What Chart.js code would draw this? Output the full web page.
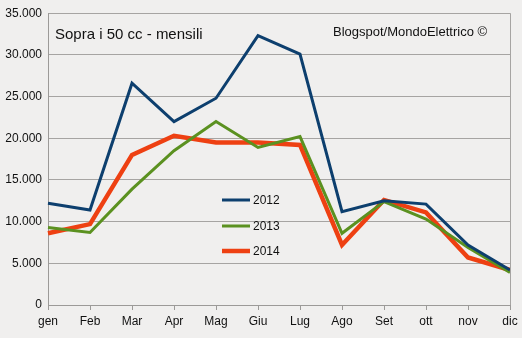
<!DOCTYPE html>
<html>
<head>
<meta charset="utf-8">
<script src="https://cdn.jsdelivr.net/npm/chart.js@4/dist/chart.umd.min.js"></script>
<style>
  html, body { margin: 0; padding: 0; background: #f0efee; }
  #wrap { width: 522px; height: 338px; }
</style>
</head>
<body>
<div id="wrap"><canvas id="lineChart" width="522" height="338"></canvas></div>
<script>
const months = ['gen', 'Feb', 'Mar', 'Apr', 'Mag', 'Giu', 'Lug', 'Ago', 'Set', 'ott', 'nov', 'dic'];
const vals2012 = [12200, 11400, 26600, 22000, 24800, 32300, 30100, 11200, 12500, 12100, 7200, 4200];
const vals2013 = [9300, 8700, 13900, 18500, 22000, 18900, 20200, 8600, 12400, 10300, 6900, 3900];
const vals2014 = [8600, 9700, 18000, 20300, 19500, 19500, 19200, 7200, 12600, 11100, 5700, 4200];
const chartTitle = 'Sopra i 50 cc - mensili';
const creditText = 'Blogspot/MondoElettrico ©';

const FONT = '"Liberation Sans", Arial, sans-serif';

// background, right border, titles and in-plot legend
const extras = {
  id: 'extras',
  beforeDraw(chart) {
    const c = chart.ctx;
    c.save();
    c.fillStyle = '#f0efee';
    c.fillRect(0, 0, chart.width, chart.height);
    c.restore();
  },
  afterDraw(chart) {
    const c = chart.ctx;
    const a = chart.chartArea;
    c.save();
    c.strokeStyle = '#a6a4a2';
    c.lineWidth = 1;
    c.beginPath();
    c.moveTo(a.right + 0.5, a.top);
    c.lineTo(a.right + 0.5, a.bottom);
    c.stroke();

    c.fillStyle = '#111';
    c.textBaseline = 'middle';
    c.font = '15px ' + FONT;
    c.textAlign = 'left';
    c.fillText(chartTitle, a.left + 7, 35);
    c.font = '13px ' + FONT;
    c.fillText(creditText, 333, 32);

    // legend
    const ys = [200, 226, 251];
    chart.data.datasets.forEach((ds, i) => {
      c.strokeStyle = ds.borderColor;
      c.lineWidth = ds.borderWidth;
      c.beginPath();
      c.moveTo(222, ys[i]);
      c.lineTo(250, ys[i]);
      c.stroke();
      c.fillStyle = '#111';
      c.font = '12px ' + FONT;
      c.fillText(ds.label, 253, ys[i] + 1);
    });
    c.restore();
  }
};

let ctxL = document.getElementById('lineChart').getContext('2d');
let myLineChart = new Chart(ctxL, {
  type: 'line',
  data: {
    labels: months,
    datasets: [
      { label: '2012', data: vals2012, borderColor: '#0d3f6e', borderWidth: 3 },
      { label: '2013', data: vals2013, borderColor: '#5b9120', borderWidth: 3 },
      { label: '2014', data: vals2014, borderColor: '#ee4012', borderWidth: 4.5 },
    ],
  },
  options: {
    responsive: false,
    animation: false,
    events: [],
    layout: { padding: { top: 11, right: 12, left: 0, bottom: 0 } },
    elements: { point: { radius: 0 }, line: { tension: 0, borderJoinStyle: 'miter' } },
    plugins: { legend: { display: false }, tooltip: { enabled: false } },
    scales: {
      x: {
        offset: false,
        afterFit(s) { s.height = 33; },
        grid: { drawOnChartArea: false, drawTicks: true, tickLength: 5, color: '#9c9a98' },
        border: { color: '#9c9a98', width: 1 },
        ticks: { color: '#111', font: { family: FONT, size: 12 }, padding: 4, maxRotation: 0, autoSkip: false },
      },
      y: {
        min: 0,
        max: 35000,
        afterFit(s) { s.width = 48; },
        grid: { color: '#a6a4a2', drawTicks: false },
        border: { color: '#9c9a98', width: 1 },
        ticks: {
          stepSize: 5000,
          padding: 6,
          color: '#111',
          font: { family: FONT, size: 12 },
          callback: (v) => v.toLocaleString('de-DE'),
        },
      },
    },
  },
  plugins: [extras],
});
</script>
</body>
</html>
